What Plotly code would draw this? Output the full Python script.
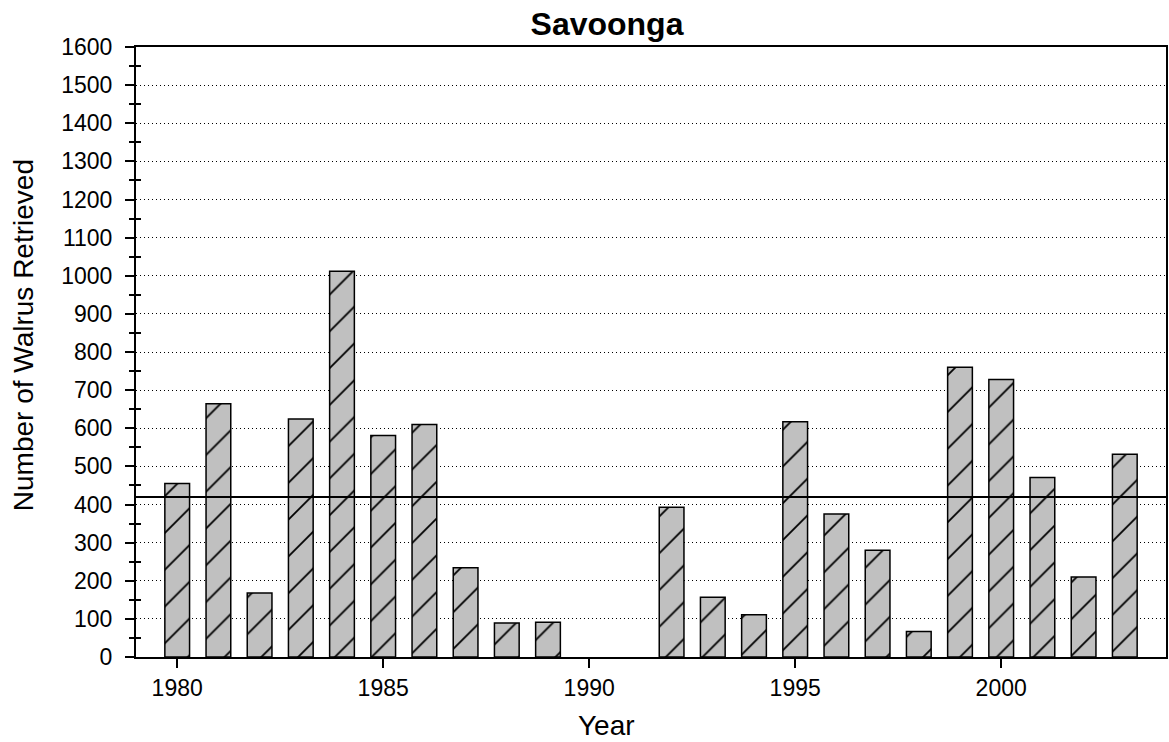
import plotly.graph_objects as go
import numpy as np

years = list(range(1980, 2004))
walrus = [455, 664, 168, 624, 1012, 581, 610, 234, 89, 91, None, None,
          393, 157, 111, 617, 375, 280, 67, 760, 728, 471, 210, 532]
title_text = "Savoonga"
x_title = "Year"
y_title = "Number of Walrus Retrieved"
x_ticks = [1980, 1985, 1990, 1995, 2000]
y_ticks = list(range(0, 1700, 100))

mean_val = float(np.mean([v for v in walrus if v is not None]))

FONT = "Liberation Sans, Arial, sans-serif"

fig = go.Figure()
fig.add_trace(go.Bar(
    x=years, y=walrus, width=0.6,
    marker=dict(color="#C0C0C0",
                line=dict(color="black", width=1.5),
                pattern=dict(shape="/", fgcolor="black", fgopacity=1,
                             size=26, solidity=0.07)),
    showlegend=False,
))
# helper invisible trace for inward minor ticks
fig.add_trace(go.Scatter(x=[years[0]], y=[0], yaxis="y2", mode="markers",
                         marker=dict(opacity=0), showlegend=False, hoverinfo="skip"))

fig.add_shape(type="line", xref="paper", x0=0, x1=1, yref="y", y0=mean_val, y1=mean_val,
              line=dict(color="black", width=2), layer="above")

fig.update_layout(
    width=1169, height=742,
    margin=dict(l=136, r=1, t=47, b=85),
    paper_bgcolor="white", plot_bgcolor="white",
    font=dict(family=FONT, color="black", size=23),
    title=dict(text="<b>%s</b>" % title_text, x=607/1169, xanchor="center",
               y=1-24/742, yanchor="middle", font=dict(size=32, family=FONT)),
    xaxis=dict(range=[1979, 2004], tickvals=x_ticks, ticks="outside", ticklen=9,
               tickwidth=2, tickcolor="black", showline=True, linewidth=2,
               linecolor="black", mirror=True, showgrid=False, zeroline=False,
               tickfont=dict(size=23)),
    yaxis=dict(range=[0, 1600], tickvals=y_ticks, ticks="outside", ticklen=9,
               tickwidth=2, tickcolor="black", showline=True, linewidth=2,
               linecolor="black", mirror=True, showgrid=True, gridcolor="black",
               gridwidth=1, griddash="1px,3px", zeroline=False,
               tickfont=dict(size=23), ticklabelstandoff=8,
               minor=dict(dtick=50, ticks="outside", ticklen=5, tickwidth=1.5,
                          tickcolor="black", showgrid=False)),
    yaxis2=dict(range=[0, 1600], overlaying="y", side="left", showticklabels=False,
                tickvals=list(range(50, 1600, 100)), ticks="inside", ticklen=5,
                tickwidth=1.5, tickcolor="black", showgrid=False, zeroline=False,
                showline=False),
    annotations=[
        dict(text=x_title, xref="paper", yref="paper", x=(607-136)/1032, y=-(725-657)/610,
             xanchor="center", yanchor="middle", showarrow=False, font=dict(size=28)),
        dict(text=y_title, xref="paper", yref="paper", x=-(136-23)/1032, y=(657-335)/610,
             xanchor="center", yanchor="middle", showarrow=False, textangle=-90,
             font=dict(size=28)),
    ],
    bargap=0.4,
)

fig.write_html("out.html")
